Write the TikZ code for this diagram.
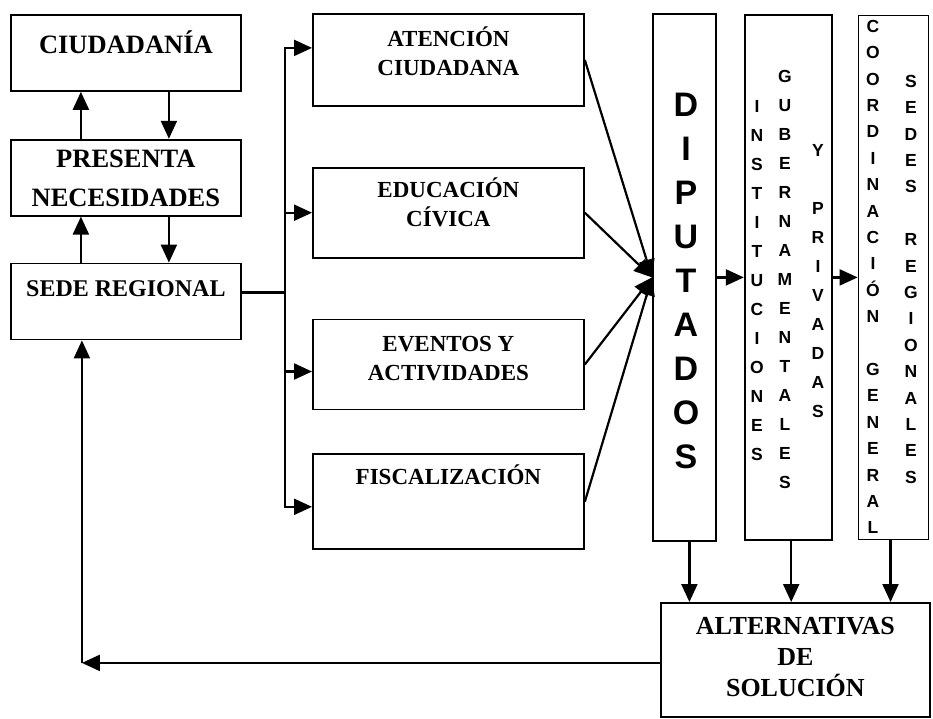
\documentclass[tikz,border=0pt]{standalone}
\usepackage{fontspec}
\setmainfont{Liberation Serif}
\newfontfamily\arialfont{Liberation Sans}
\usepackage{tikz}
\usetikzlibrary{arrows.meta,positioning}
\tikzset{
  every picture/.style = {
    x = 1pt,
    y = -1pt,
    line width = 2.2pt,
    >={Triangle[length=18pt,width=16pt]},
  }
  ,
  box/.style = {
    rectangle,
    draw,
    line width = 1.8pt,
    inner sep = 0pt
  }
  , % labels of the left boxes
  label-big/.style = {
    anchor = north,
    inner sep = 0pt,
    align = center,
    font = \bfseries\fontsize{26.5}{39}\selectfont
  }
  , % labels of the middle boxes
  label-mid/.style = {
    anchor = north,
    inner sep = 0pt,
    align = center,
    font = \bfseries\fontsize{23}{29}\selectfont
  }
  ,
  label-alt/.style = {
    anchor = north,
    inner sep = 0pt,
    align = center,
    font = \bfseries\fontsize{26}{31}\selectfont
  }
  , % letters in the tall boxes
  letters/.style = {
    anchor = north,
    inner sep = 0pt,
    align = center,
    font = \arialfont\bfseries\fontsize{17.5}{29}\selectfont
  }
  ,
  letters-tight/.style = {
    letters,
    font = \arialfont\bfseries\fontsize{17.5}{26.4}\selectfont
  }
  ,
  letters-big/.style = {
    letters,
    font = \arialfont\bfseries\fontsize{34}{44}\selectfont
  }
}
\begin{document}
\begin{tikzpicture}
    \useasboundingbox (0,0) rectangle (933,718);
    % left column
    \node [box, minimum width = 230pt, minimum height = 76pt, anchor = north west,
           label = {[label-big, label distance = -10.7pt]north:\strut CIUDADANÍA}] (ciud) at (10,14) {};
    \node [box, minimum width = 230pt, minimum height = 76pt, below = 47pt of ciud,
           label = {[label-big, label distance = 0pt]north:\strut PRESENTA\\NECESIDADES}] (pres) {};
    \node [box, minimum width = 230pt, minimum height = 76pt, below = 46pt of pres,
           label = {[label-big, label distance = -5pt, font = \bfseries\fontsize{24}{39}\selectfont]north:\strut SEDE REGIONAL}] (sede) {};
    % middle column
    \node [box, minimum width = 271pt, minimum height = 92pt, anchor = north west,
           label = {[label-mid, label distance = -11.7pt]north:\strut ATENCIÓN\\CIUDADANA}] (aten) at (312,13) {};
    \node [box, minimum width = 271pt, minimum height = 90pt, below = 60pt of aten,
           label = {[label-mid, label distance = -9.7pt]north:\strut EDUCACIÓN\\CÍVICA}] (educ) {};
    \node [box, minimum width = 271pt, minimum height = 90pt, below = 60pt of educ,
           label = {[label-mid, label distance = -11.7pt]north:\strut EVENTOS Y\\ACTIVIDADES}] (even) {};
    \node [box, minimum width = 271pt, minimum height = 95pt, below = 43pt of even,
           label = {[label-mid, label distance = -9.7pt]north:\strut FISCALIZACIÓN}] (fisc) {};
    % tall boxes
    \node [box, minimum width = 63pt, minimum height = 527pt, anchor = north west] (dip) at (652,13) {};
    \node [box, minimum width = 87pt, minimum height = 525pt, right = 27pt of dip] (inst) {};
    \node [box, minimum width = 70pt, minimum height = 524pt, right = 25pt of inst] (coord) {};
    \node [letters-big] (dip-text) at (686,92) {D\\I\\P\\U\\T\\A\\D\\O\\S};
    \node [letters] (inst-text) at (757,99) {I\\N\\S\\T\\I\\T\\U\\C\\I\\O\\N\\E\\S};
    \node [letters] (gub-text) at (785,69) {G\\U\\B\\E\\R\\N\\A\\M\\E\\N\\T\\A\\L\\E\\S};
    \node [letters] (priv-text) at (818,143) {Y\\~\\P\\R\\I\\V\\A\\D\\A\\S};
    \node [letters-tight] (coord-text) at (873,19) {C\\O\\O\\R\\D\\I\\N\\A\\C\\I\\Ó\\N\\~\\G\\E\\N\\E\\R\\A\\L};
    \node [letters-tight] (sedes-text) at (911,74) {S\\E\\D\\E\\S\\~\\R\\E\\G\\I\\O\\N\\A\\L\\E\\S};
    \node [box, minimum width = 269pt, minimum height = 114pt, anchor = north west,
           label = {[label-alt, label distance = -9.3pt]north:\strut ALTERNATIVAS\\DE\\SOLUCIÓN}] (alt) at (660,602) {};
    % arrows of the left column
    \draw [->] ([xshift=-45pt]pres.north) -- ([xshift=-45pt]ciud.south);
    \draw [->] ([xshift=43pt]ciud.south) -- ([xshift=43pt]pres.north);
    \draw [->] ([xshift=-45pt]sede.north) -- ([xshift=-45pt]pres.south);
    \draw [->] ([xshift=43pt]pres.south) -- ([xshift=43pt]sede.north);
    % bus to the middle boxes
    \coordinate (bus) at ([xshift=43pt, yshift=9pt]sede.east);
    \draw (sede.east |- bus) -- (bus);
    \draw [->] (bus) |- ([yshift=12pt]aten.west);
    \draw [->] (bus) |- (educ);
    \draw [->] (bus) |- ([yshift=-7pt]even.west);
    \draw [->] (bus) |- ([yshift=-5pt]fisc.west);
    % into the tall boxes
    \path [->] (aten.east) edge (dip.west)
               (educ.east) edge (dip.west)
               (even.east) edge (dip.west)
               (fisc.east) edge (dip.west);
    \path [->] (dip) edge (inst)
               (inst) edge (coord);
    \path [->] ([xshift=5pt]dip.south) edge ([xshift=5pt]dip.south |- alt.north)
               ([xshift=3pt]inst.south) edge ([xshift=3pt]inst.south |- alt.north)
               ([xshift=-3pt]coord.south) edge ([xshift=-3pt]coord.south |- alt.north);
    % back to the regional office
    \coordinate (back) at ([xshift=-44pt, yshift=-3pt]sede.south |- alt.west);
    \draw [->] (alt.west |- back) -- (back);
    \draw [->] (back) -- ([xshift=-44pt]sede.south);
\end{tikzpicture}
\end{document}
